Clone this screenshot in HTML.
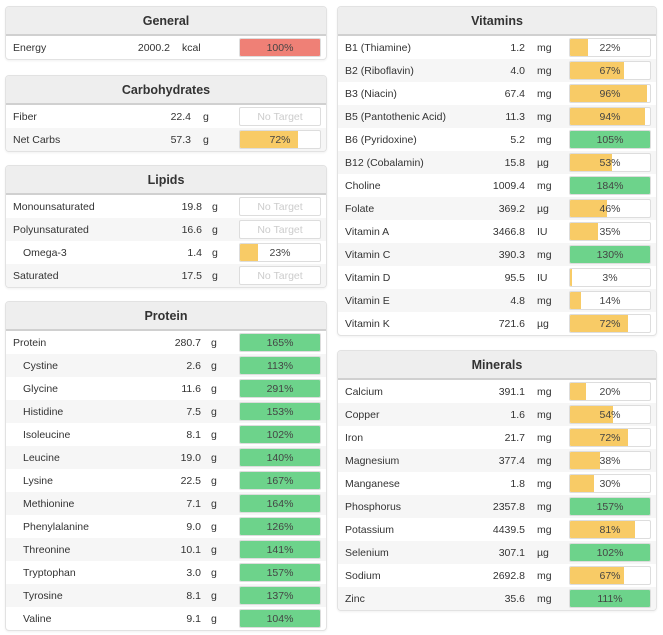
<!DOCTYPE html>
<html><head><meta charset="utf-8">
<style>
body{margin:0;width:663px;height:635px;background:#fff;font-family:"Liberation Sans",sans-serif;font-size:10.5px;color:#333;position:relative;overflow:hidden}
.panel{position:absolute;border:1px solid #e2e2e2;border-radius:4px;background:#fff;box-shadow:0 1px 2px rgba(0,0,0,.06);overflow:hidden}
.hdr{height:27px;background:#eee;border-bottom:2px solid #d0d0d0;text-align:center;font-weight:bold;font-size:12.5px;line-height:28px;color:#333}
.row{position:relative;height:23px}
.row:nth-child(even){background:#f6f6f6}
.nm,.vl,.un{position:absolute;top:6px;white-space:nowrap}
.vl{text-align:right}
.bar{position:absolute;top:2px;height:17px;border:1px solid #ddd;border-radius:2px;background:#fff;overflow:hidden}
.fill{position:absolute;left:0;top:0;bottom:0}
.bt{position:absolute;left:0;right:0;top:3px;text-align:center;color:#444}
.nt .bt{color:#ccc}
</style></head><body>
<script>
const panels=[
 {title:"General",x:5,y:6,w:320,vr:164,ux:176,rows:[["Energy","2000.2","kcal",100,"r"]]},
 {title:"Carbohydrates",x:5,y:75,w:320,vr:185,ux:197,rows:[["Fiber","22.4","g",null],["Net Carbs","57.3","g",72]]},
 {title:"Lipids",x:5,y:165,w:320,vr:196,ux:206,rows:[["Monounsaturated","19.8","g",null],["Polyunsaturated","16.6","g",null],["Omega-3","1.4","g",23,"y",1],["Saturated","17.5","g",null]]},
 {title:"Protein",x:5,y:301,w:320,vr:195,ux:205,rows:[["Protein","280.7","g",165],["Cystine","2.6","g",113,0,1],["Glycine","11.6","g",291,0,1],["Histidine","7.5","g",153,0,1],["Isoleucine","8.1","g",102,0,1],["Leucine","19.0","g",140,0,1],["Lysine","22.5","g",167,0,1],["Methionine","7.1","g",164,0,1],["Phenylalanine","9.0","g",126,0,1],["Threonine","10.1","g",141,0,1],["Tryptophan","3.0","g",157,0,1],["Tyrosine","8.1","g",137,0,1],["Valine","9.1","g",104,0,1]]},
 {title:"Vitamins",x:337,y:6,w:318,vr:187,ux:199,rows:[["B1 (Thiamine)","1.2","mg",22],["B2 (Riboflavin)","4.0","mg",67],["B3 (Niacin)","67.4","mg",96],["B5 (Pantothenic Acid)","11.3","mg",94],["B6 (Pyridoxine)","5.2","mg",105],["B12 (Cobalamin)","15.8","µg",53],["Choline","1009.4","mg",184],["Folate","369.2","µg",46],["Vitamin A","3466.8","IU",35],["Vitamin C","390.3","mg",130],["Vitamin D","95.5","IU",3],["Vitamin E","4.8","mg",14],["Vitamin K","721.6","µg",72]]},
 {title:"Minerals",x:337,y:350,w:318,vr:187,ux:199,rows:[["Calcium","391.1","mg",20],["Copper","1.6","mg",54],["Iron","21.7","mg",72],["Magnesium","377.4","mg",38],["Manganese","1.8","mg",30],["Phosphorus","2357.8","mg",157],["Potassium","4439.5","mg",81],["Selenium","307.1","µg",102],["Sodium","2692.8","mg",67],["Zinc","35.6","mg",111]]}
];
panels.forEach(p=>{
 const d=document.createElement('div');d.className='panel';
 
 
 d.style.cssText=`left:${p.x}px;top:${p.y}px;width:${p.w}px`;
 const h=document.createElement('div');h.className='hdr';h.textContent=p.title;
 
 
 d.appendChild(h);
 const body=document.createElement('div');
 p.rows.forEach(r=>{
  const row=document.createElement('div');row.className='row';
  
  
  const bx=p.w-87;
  let barHtml;
  if(r[3]==null){barHtml=`<div class="bar nt" style="left:${bx}px;width:80px"><div class="bt">No Target</div></div>`;}
  else{const pct=r[3];const c=r[4]==="r"?"#ef8076":(pct>=100?"#6dd38b":"#f8cb66");
   barHtml=`<div class="bar" style="left:${bx}px;width:80px"><div class="fill" style="width:${Math.min(pct,100)}%;background:${c}"></div><div class="bt">${pct}%</div></div>`;}
  row.innerHTML=`<span class="nm" style="left:${r[5]?17:7}px">${r[0]}</span><span class="vl" style="right:${p.w-p.vr}px">${r[1]}</span><span class="un" style="left:${p.ux}px">${r[2]}</span>`+barHtml;
  body.appendChild(row);
 });
 d.appendChild(body);
 document.body.appendChild(d);
});
</script>
</body></html>
